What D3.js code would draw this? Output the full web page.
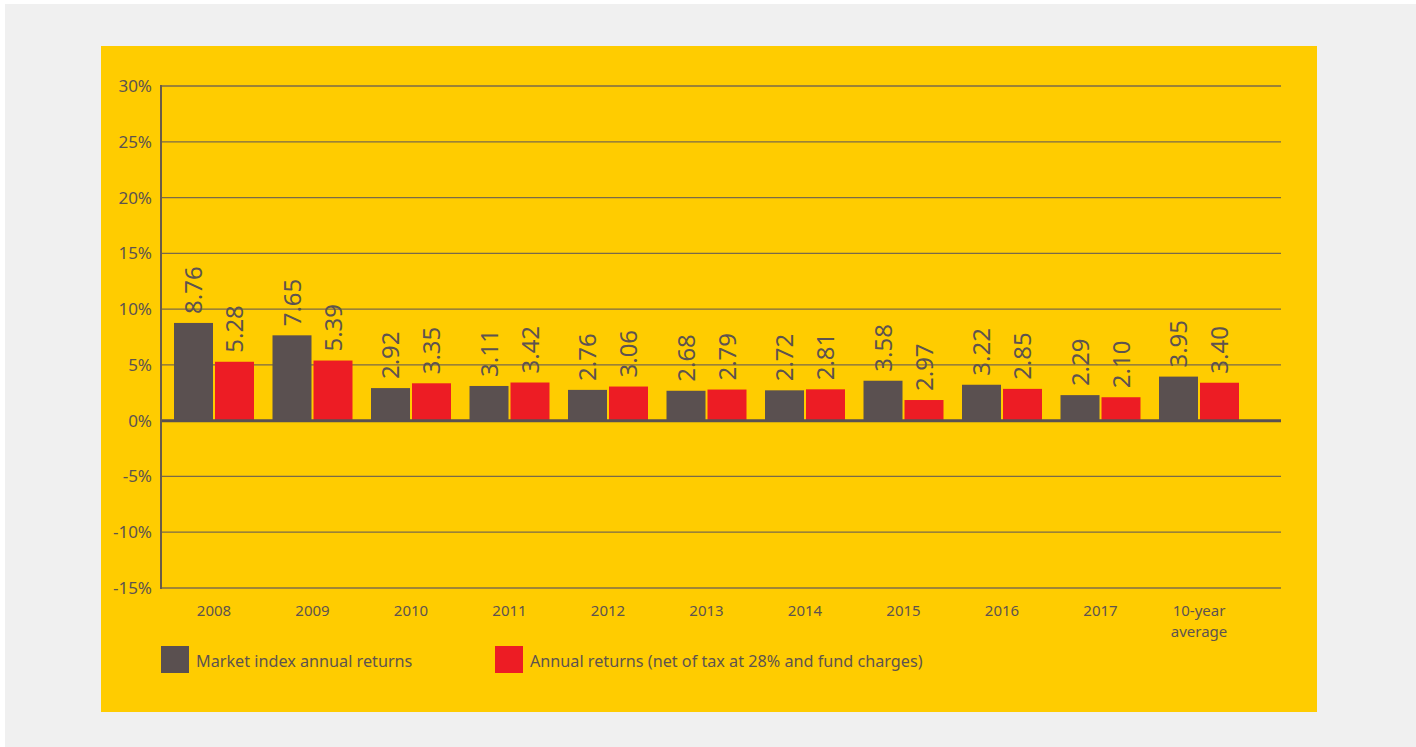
<!DOCTYPE html>
<html><head><meta charset="utf-8">
<script src="https://cdn.jsdelivr.net/npm/d3@7"></script>
<style>html,body{margin:0;padding:0;background:#fff;}svg{display:block;}</style>
</head><body>
<svg id="c" width="1416" height="747"></svg>
<script>
const categories = ["2008","2009","2010","2011","2012","2013","2014","2015","2016","2017","10-year|average"];
const marketValues = [8.76,7.65,2.92,3.11,2.76,2.68,2.72,3.58,3.22,2.29,3.95];
const netValues    = [5.28,5.39,3.35,3.42,3.06,2.79,2.81,1.85,2.85,2.10,3.40];
const marketLabels = ["8.76","7.65","2.92","3.11","2.76","2.68","2.72","3.58","3.22","2.29","3.95"];
const netLabels    = ["5.28","5.39","3.35","3.42","3.06","2.79","2.81","2.97","2.85","2.10","3.40"];
const yTicks = [-15,-10,-5,0,5,10,15,20,25,30];
const seriesNames = ["Market index annual returns","Annual returns (net of tax at 28% and fund charges)"];
const colors = ["#5a5050","#ed1c24"];

const svg = d3.select("#c");
const font = "'Noto Sans', sans-serif";
const textCol = "#5d5350";
svg.append("rect").attr("x",0).attr("y",0).attr("width",1416).attr("height",747).attr("fill","#fff");
svg.append("rect").attr("x",5).attr("y",4).attr("width",1411).attr("height",743).attr("fill","#f0f0f0");
svg.append("rect").attr("x",101).attr("y",46).attr("width",1216).attr("height",666).attr("fill","#ffcc00");

const y = d3.scaleLinear().domain([-15,30]).range([588,86]);
const x = d3.scaleBand().domain(categories).range([164.75,1248.25]).padding(0);
const plotL = 161, plotR = 1281;

// gridlines
svg.append("g").selectAll("line").data(yTicks.filter(t=>t!==0 && t!==-15)).join("line")
  .attr("x1",plotL).attr("x2",plotR).attr("y1",d=>y(d)).attr("y2",d=>y(d))
  .attr("stroke","#7a6a48").attr("stroke-width",1.3);
// bottom line
svg.append("line").attr("x1",plotL).attr("x2",plotR).attr("y1",y(-15)).attr("y2",y(-15))
  .attr("stroke","#a08536").attr("stroke-width",2);

// y axis labels
svg.append("g").selectAll("text").data(yTicks).join("text")
  .attr("x",152).attr("y",d=>y(d)+6).attr("text-anchor","end")
  .attr("font-family",font).attr("font-size",17).attr("fill",textCol)
  .text(d=>d+"%");

// bars
const bw = 39;
const g = svg.append("g");
g.selectAll("rect.m").data(categories).join("rect").attr("class","m")
  .attr("x",d=>x(d)+x.bandwidth()/2-bw-1).attr("width",bw)
  .attr("y",(d,i)=>y(Math.max(0,marketValues[i]))).attr("height",(d,i)=>Math.abs(y(marketValues[i])-y(0)))
  .attr("fill",colors[0]);
g.selectAll("rect.n").data(categories).join("rect").attr("class","n")
  .attr("x",d=>x(d)+x.bandwidth()/2+1).attr("width",bw)
  .attr("y",(d,i)=>y(Math.max(0,netValues[i]))).attr("height",(d,i)=>Math.abs(y(netValues[i])-y(0)))
  .attr("fill",colors[1]);

// value labels
function addLabels(vals, labels, dx){
  g.selectAll(null).data(categories).join("text")
    .attr("transform",(d,i)=>{const cx=x(d)+x.bandwidth()/2+dx; const cy=y(vals[i])-9; return `translate(${cx+8.5},${cy}) rotate(-90)`;})
    .attr("font-family",font).attr("font-size",24).attr("fill",textCol)
    .text((d,i)=>labels[i]);
}
addLabels(marketValues, marketLabels, -bw/2-1);
addLabels(netValues, netLabels, bw/2+1);

// zero line and left axis
svg.append("line").attr("x1",plotL).attr("x2",plotR).attr("y1",y(0)).attr("y2",y(0))
  .attr("stroke","#5a5050").attr("stroke-width",3);
svg.append("line").attr("x1",plotL).attr("x2",plotL).attr("y1",y(30)-1).attr("y2",y(-15)+1)
  .attr("stroke","#6a5c48").attr("stroke-width",2);

// category labels
const cl = svg.append("g").selectAll("text").data(categories).join("text")
  .attr("x",d=>x(d)+x.bandwidth()/2).attr("y",616).attr("text-anchor","middle")
  .attr("font-family",font).attr("font-size",15).attr("fill",textCol);
cl.each(function(d){
  const parts=d.split("|");
  d3.select(this).selectAll("tspan").data(parts).join("tspan")
    .attr("x",x(d)+x.bandwidth()/2).attr("dy",(p,j)=>j===0?0:21).text(p=>p);
});

// legend
const legX=[161,495];
seriesNames.forEach((n,i)=>{
  svg.append("rect").attr("x",legX[i]).attr("y",646).attr("width",28).attr("height",27).attr("fill",colors[i]);
  svg.append("text").attr("x",legX[i]+35).attr("y",667).attr("font-family",font).attr("font-size",16.2)
    .attr("fill",textCol).text(n);
});
</script>
</body></html>
